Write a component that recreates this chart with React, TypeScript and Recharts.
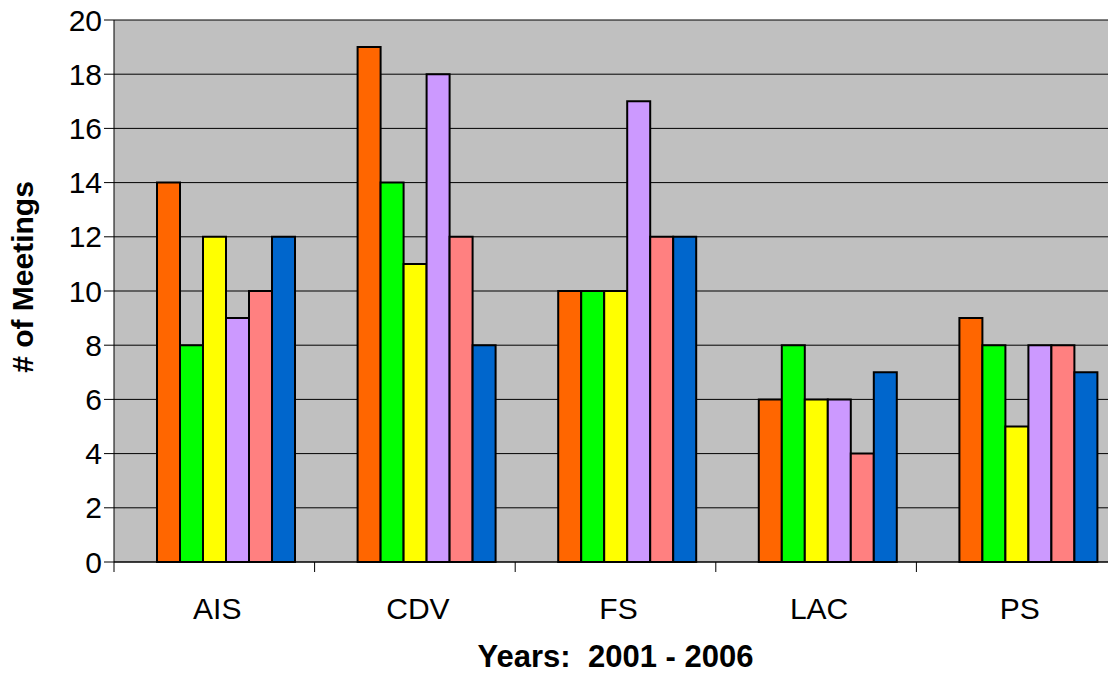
import { Bar, BarChart, CartesianGrid, Label, XAxis, YAxis } from "recharts";

const categories = ["AIS", "CDV", "FS", "LAC", "PS"];
const years = ["2001", "2002", "2003", "2004", "2005", "2006"];
const colors = ["#FF6600", "#00FF00", "#FFFF00", "#CC99FF", "#FF8080", "#0066CC"];

const meetings2001 = [14, 19, 10, 6, 9];
const meetings2002 = [8, 14, 10, 8, 8];
const meetings2003 = [12, 11, 10, 6, 5];
const meetings2004 = [9, 18, 17, 6, 8];
const meetings2005 = [10, 12, 12, 4, 8];
const meetings2006 = [12, 8, 12, 7, 7];

const yTicks = [0, 2, 4, 6, 8, 10, 12, 14, 16, 18, 20];

const series = [meetings2001, meetings2002, meetings2003, meetings2004, meetings2005, meetings2006];

const data = categories.map((group, i) => {
  const row: Record<string, string | number> = { group };
  years.forEach((y, s) => {
    row[y] = series[s][i];
  });
  return row;
});

const font = "'Liberation Sans', Arial, sans-serif";

// label in the middle of the band, tick marks on the band edges
function CategoryTick({ x, y, payload, index, visibleTicksCount }: any) {
  const half = payload.offset ?? 0;
  return (
    <g>
      <line x1={x - half} x2={x - half} y1={y} y2={y + 10} stroke="#000" strokeWidth={1} />
      {index === visibleTicksCount - 1 && (
        <line x1={x + half} x2={x + half} y1={y} y2={y + 10} stroke="#000" strokeWidth={1} />
      )}
      <text x={x + 3} y={y + 46} textAnchor="middle" dominantBaseline="central" fontSize={30} fontFamily={font} fill="#000">
        {payload.value}
      </text>
    </g>
  );
}

export default function App() {
  return (
    <div style={{ position: "fixed", left: 0, top: 0, width: 1108, height: 681, overflow: "hidden", background: "#fff" }}>
      <BarChart
        width={1117}
        height={681}
        data={data}
        margin={{ top: 20, right: 0, left: 0, bottom: 0 }}
        barGap={0}
        barCategoryGap={30}
      >
        <CartesianGrid xAxisId="bars" vertical={false} stroke="#000" fill="#C0C0C0" fillOpacity={1} />
        <XAxis
          xAxisId="cats"
          dataKey="group"
          interval={0}
          tickLine={false}
          tickSize={0}
          tickMargin={0}
          axisLine={{ stroke: "#000" }}
          height={119}
          tick={<CategoryTick />}
        >
          <Label
            value={"Years:\u00a0 2001 - 2006"}
            position="insideBottom"
            offset={14}
            fontSize={31}
            fontWeight="bold"
            fontFamily={font}
            fill="#000"
          />
        </XAxis>
        <XAxis xAxisId="bars" dataKey="group" hide height={0} padding={{ left: 13, right: -13 }} />
        <YAxis
          type="number"
          domain={[0, 20]}
          ticks={yTicks}
          interval={0}
          width={114}
          tickSize={10}
          tickMargin={2}
          axisLine={{ stroke: "#000" }}
          tickLine={{ stroke: "#000" }}
          tick={{ fontSize: 30, fontFamily: font, fill: "#000" }}
        >
          <Label
            value="# of Meetings"
            angle={-90}
            position="center"
            dx={-35}
            dy={-14}
            fontSize={30}
            fontWeight="bold"
            fontFamily={font}
            fill="#000"
          />
        </YAxis>
        {years.map((y, i) => (
          <Bar
            key={y}
            xAxisId="bars"
            dataKey={y}
            fill={colors[i]}
            stroke="#000"
            strokeWidth={2}
            isAnimationActive={false}
          />
        ))}
      </BarChart>
    </div>
  );
}
